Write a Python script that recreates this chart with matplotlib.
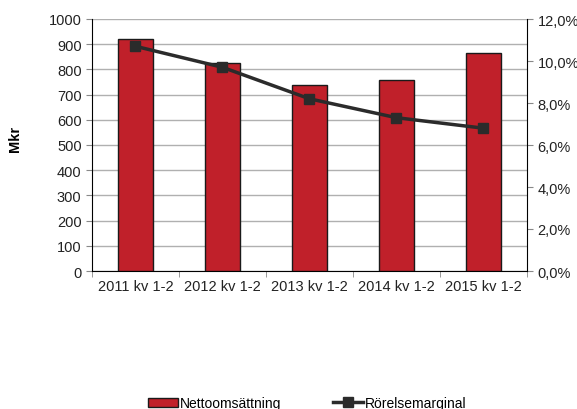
import matplotlib.pyplot as plt
import numpy as np

plt.rcParams['font.family'] = ['Liberation Sans', 'DejaVu Sans']

categories = ["2011 kv 1-2", "2012 kv 1-2", "2013 kv 1-2", "2014 kv 1-2", "2015 kv 1-2"]
netto = [920, 824, 738, 757, 864]
marginal = [10.7, 9.7, 8.2, 7.3, 6.8]
left_ticks = list(range(0, 1001, 100))
right_ticks = [0, 2, 4, 6, 8, 10, 12]

fig = plt.figure(figsize=(5.77, 4.10), dpi=100)
ax = fig.add_axes([92/577, 1 - 272/410, 435/577, 252/410])
x = np.arange(len(categories))

ax.bar(x, netto, width=0.4, color='#c0202a', edgecolor='#1a1a1a', linewidth=1.0,
       label='Nettoomsättning', zorder=3)
ax.set_xlim(-0.5, len(categories) - 0.5)
ax.set_ylim(0, 1000)
ax.set_yticks(left_ticks)
ax.set_xticks(x)
ax.set_xticklabels(categories)
ax.set_xticks(np.arange(-0.5, len(categories), 1), minor=True)
ax.tick_params(axis='x', which='major', length=0, labelsize=10.5, colors='#222222', pad=6)
ax.tick_params(axis='x', which='minor', length=4, direction='out', color='#888888')
ax.tick_params(axis='y', length=4, direction='out', labelsize=10.5, colors='#222222', color='#888888')
ax.yaxis.grid(True, color='#b0b0b0', linewidth=1.0, zorder=0)
ax.set_axisbelow(True)
for s in ['top', 'right']:
    ax.spines[s].set_visible(False)
ax.spines['left'].set_color('black')
ax.spines['bottom'].set_color('black')
ax.set_ylabel('Mkr', fontweight='bold', fontsize=10.5)
ax.yaxis.set_label_coords(-0.16, 0.53)

ax2 = ax.twinx()
ax2.plot(x, marginal, color='#2b2b2b', linewidth=2.5, marker='s', markersize=6.5,
         label='Rörelsemarginal', zorder=4)
ax2.set_ylim(0, 12)
ax2.set_yticks(right_ticks)
ax2.set_yticklabels([f"{t:.1f}%".replace('.', ',') for t in right_ticks])
ax2.tick_params(axis='y', length=4, direction='out', labelsize=10.5, colors='#222222', color='#888888')
for s in ['top', 'left', 'bottom']:
    ax2.spines[s].set_visible(False)
ax2.spines['right'].set_color('black')

h1, l1 = ax.get_legend_handles_labels()
h2, l2 = ax2.get_legend_handles_labels()
fig.legend(h1 + h2, l1 + l2, loc='center', bbox_to_anchor=(307/577, 1 - 404/410), ncol=2,
           frameon=False, fontsize=10, columnspacing=3.7, handlelength=2.2, handletextpad=0.1,
           handleheight=0.6, borderpad=0)

fig.savefig('out.png', dpi=100)
